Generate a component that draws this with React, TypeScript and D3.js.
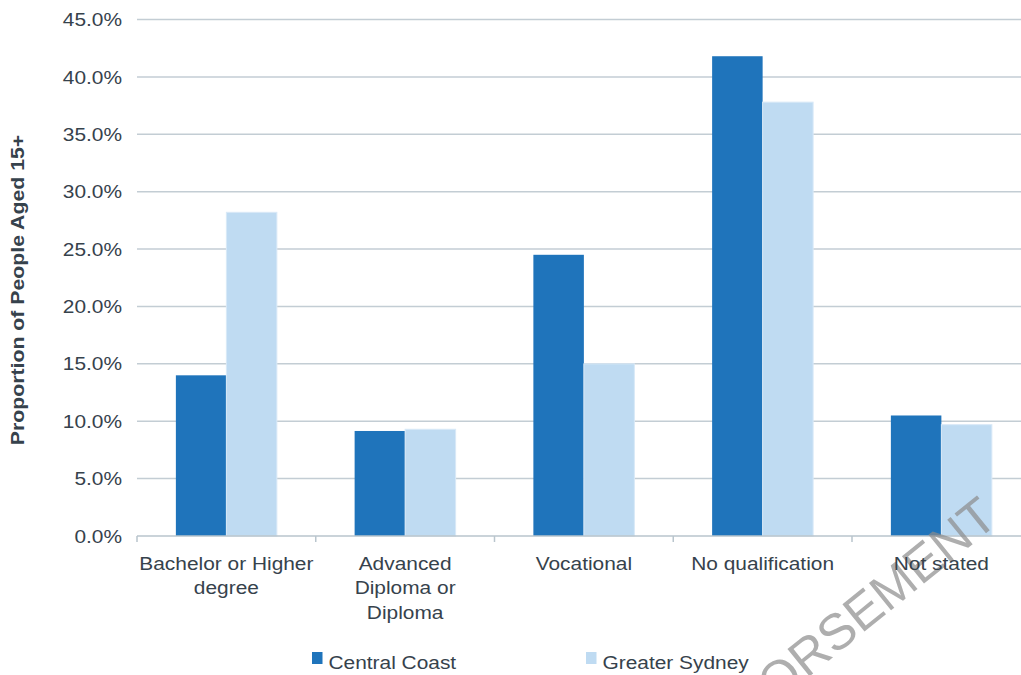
import { useEffect, useRef } from "react";
import * as d3 from "d3";

const categories = [
    ["Bachelor or Higher", "degree"],
    ["Advanced", "Diploma or", "Diploma"],
    ["Vocational"],
    ["No qualification"],
    ["Not stated"],
];
const seriesNames = ["Central Coast", "Greater Sydney"];
const centralCoast = [14.0, 9.15, 24.5, 41.8, 10.5];
const greaterSydney = [28.2, 9.3, 15.0, 37.8, 9.7];
const yTicks = [0, 5, 10, 15, 20, 25, 30, 35, 40, 45];
const colors = ["#1f74bb", "#bfdbf2"];

export default function App() {
    const ref = useRef<SVGSVGElement | null>(null);

    useEffect(() => {
        if (!ref.current) return;
        const width = 1021;
        const height = 675;
        const left = 137;
        const catWidth = 178.75;
        const top = 19.5;
        const bottom = 536;
        const textColor = "#36424c";
        const font = "'Liberation Sans', Arial, sans-serif";
        const fs = 18.5;
        const sx = 1.13; // the source text is a bit wider than Liberation Sans

        const svg = d3.select(ref.current);
        svg.selectAll("*").remove();
        svg.attr("width", width).attr("height", height);

        const keys = categories.map((_, i) => String(i));
        const x0 = d3.scaleBand().domain(keys).range([left, left + catWidth * categories.length]);
        const groupW = 101;
        const x1 = d3.scaleBand().domain(seriesNames).range([(catWidth - groupW) / 2, (catWidth + groupW) / 2]);
        const y = d3.scaleLinear().domain([0, 45]).range([bottom, top]);

        // gridlines
        svg.append("g")
            .selectAll("line")
            .data(yTicks.filter((t) => t > 0))
            .join("line")
            .attr("x1", left)
            .attr("x2", width)
            .attr("y1", (d) => y(d))
            .attr("y2", (d) => y(d))
            .attr("stroke", "#c3cdd4")
            .attr("stroke-width", 1.5);

        // y tick labels
        svg.append("g")
            .selectAll("text")
            .data(yTicks)
            .join("text")
            .attr("transform", (d) => `translate(122,${y(d)}) scale(${sx},1)`)
            .attr("dy", "0.36em")
            .attr("text-anchor", "end")
            .attr("font-family", font)
            .attr("font-size", fs)
            .attr("fill", textColor)
            .text((d) => d.toFixed(1) + "%");

        // bars
        const data = [centralCoast, greaterSydney];
        const groups = svg.append("g")
            .selectAll("g")
            .data(keys)
            .join("g")
            .attr("transform", (d) => `translate(${x0(d)},0)`);
        groups.selectAll("rect")
            .data((_, i) => seriesNames.map((s, j) => ({ s, v: data[j][i], j })))
            .join("rect")
            .attr("x", (d) => x1(d.s)!)
            .attr("width", x1.bandwidth())
            .attr("y", (d) => y(d.v))
            .attr("height", (d) => bottom - y(d.v))
            .attr("fill", (d) => colors[d.j])
            .attr("stroke", (d) => (d.j === 1 ? "#d9e9f7" : "none"))
            .attr("stroke-width", 1);

        // x axis line and ticks
        svg.append("line")
            .attr("x1", left)
            .attr("x2", width)
            .attr("y1", bottom)
            .attr("y2", bottom)
            .attr("stroke", "#b9c5cd")
            .attr("stroke-width", 1.5);
        svg.append("g")
            .selectAll("line")
            .data(d3.range(categories.length + 1))
            .join("line")
            .attr("x1", (i) => left + i * catWidth)
            .attr("x2", (i) => left + i * catWidth)
            .attr("y1", bottom)
            .attr("y2", bottom + 6)
            .attr("stroke", "#b9c5cd")
            .attr("stroke-width", 1.5);

        // watermark (cut off by the edge, as in the source)
        svg.append("text")
            .attr("transform", "translate(1000,522) rotate(-39)")
            .attr("text-anchor", "end")
            .attr("font-family", font)
            .attr("font-size", 51)
            .attr("fill", "#8c8c8c")
            .attr("fill-opacity", 0.7)
            .text("ENDORSEMENT");

        // category labels
        const labels = svg.append("g")
            .selectAll("g")
            .data(categories)
            .join("g")
            .attr("transform", (_, i) => `translate(${x0(String(i))! + catWidth / 2},0) scale(${sx},1)`);
        labels.selectAll("text")
            .data((d) => d)
            .join("text")
            .attr("y", (_, k) => 570 + k * 24.5)
            .attr("text-anchor", "middle")
            .attr("font-family", font)
            .attr("font-size", fs)
            .attr("fill", textColor)
            .text((d) => d);

        // y axis title
        svg.append("text")
            .attr("transform", `translate(24,290) rotate(-90) scale(1.15,1)`)
            .attr("text-anchor", "middle")
            .attr("font-family", font)
            .attr("font-size", 18.5)
            .attr("font-weight", "bold")
            .attr("fill", textColor)
            .text("Proportion of People Aged 15+");

        // legend
        const legendX = [312, 586];
        const legend = svg.append("g")
            .selectAll("g")
            .data(seriesNames)
            .join("g")
            .attr("transform", (_, i) => `translate(${legendX[i]},652)`);
        legend.append("rect")
            .attr("width", 10.5)
            .attr("height", 12)
            .attr("fill", (_, i) => colors[i]);
        legend.append("text")
            .attr("transform", `translate(16.5,16.5) scale(${sx},1)`)
            .attr("font-family", font)
            .attr("font-size", fs)
            .attr("fill", textColor)
            .text((d) => d);
    }, []);

    return (
        <svg
            ref={(el) => { if (el) ref.current = el; }}
            style={{ position: "absolute", left: 0, top: 0, background: "#fff" }}
        />
    );
}
